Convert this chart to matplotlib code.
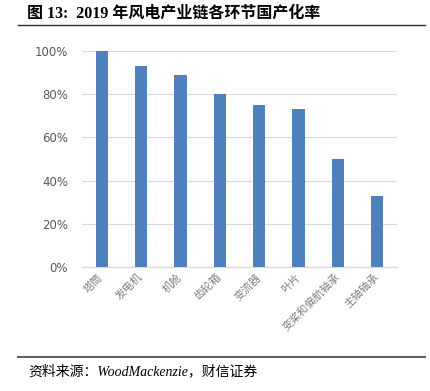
import matplotlib.pyplot as plt
from matplotlib.lines import Line2D
from matplotlib.ticker import FuncFormatter

categories = ['塔筒', '发电机', '机舱', '齿轮箱', '变流器', '叶片', '变桨和偏航轴承', '主轴轴承']
rates = [1.00, 0.93, 0.89, 0.80, 0.75, 0.73, 0.50, 0.33]
yticks = [0, 0.2, 0.4, 0.6, 0.8, 1.0]

cjk = ['Noto Sans CJK SC', 'DejaVu Sans']
serif_cjk = ['Liberation Serif', 'Noto Sans CJK SC']

fig = plt.figure(figsize=(4.3, 3.91), dpi=100)
ax = fig.add_axes([0.1907, 0.317, 0.923 - 0.1907, 0.8696 - 0.317])

x = range(len(categories))
ax.bar(x, rates, width=0.31, color='#4f81bd', zorder=3)

ax.set_xlim(-0.5, len(categories) - 0.5)
ax.set_ylim(0, 1.0)
ax.set_yticks(yticks)
ax.yaxis.set_major_formatter(FuncFormatter(lambda v, p: f'{v * 100:.0f}%'))
ax.grid(axis='y', color='#d9d9d9', linewidth=0.8, zorder=0)

for s in ['top', 'right', 'left']:
    ax.spines[s].set_visible(False)
ax.spines['bottom'].set_color('#d9d9d9')
ax.spines['bottom'].set_linewidth(0.9)

ax.tick_params(axis='both', length=0, colors='#595959', labelsize=8.5)
ax.tick_params(axis='y', pad=10)
ax.set_xticks(list(x))
ax.set_xticklabels(categories, rotation=45, ha='right', va='center',
                   rotation_mode='anchor', family=cjk, fontsize=7.8, color='#7f7f7f')
ax.tick_params(axis='x', pad=6)

fig.text(0.063, 0.964, '图 13:  2019 年风电产业链各环节国产化率', family=serif_cjk,
         fontweight='bold', fontsize=11.5, va='center', ha='left')
fig.text(0.065, 0.049, '资料来源：WoodMackenzie，财信证券', family=serif_cjk,
         style='italic', fontsize=10, va='center', ha='left')

fig.add_artist(Line2D([0.042, 0.988], [1 - 25 / 391] * 2, color='#303030', linewidth=1.0))
fig.add_artist(Line2D([0.042, 0.988], [1 - 357 / 391] * 2, color='#606060', linewidth=1.5))

fig.savefig('out.png', dpi=100)
